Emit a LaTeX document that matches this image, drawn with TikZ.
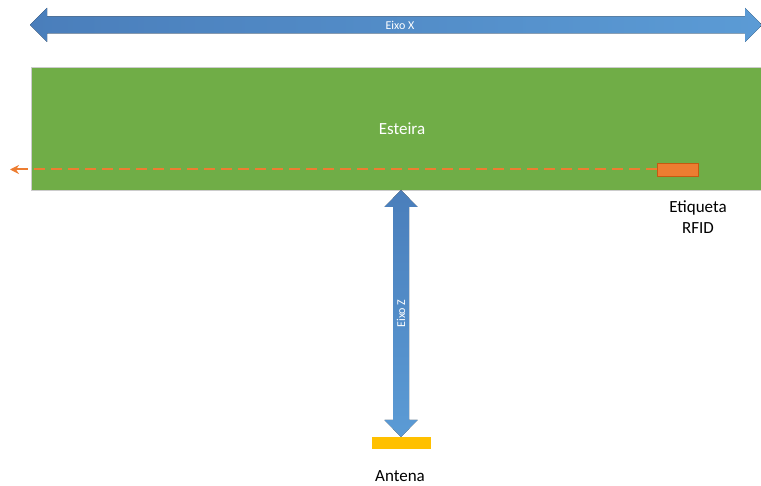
\documentclass[tikz,border=0pt]{standalone}
\usepackage{fontspec}
\setmainfont{Carlito}
\usetikzlibrary{arrows.meta, positioning}
\definecolor{eixoblue}{HTML}{4A7EBB}
\definecolor{eixolight}{HTML}{5B9BD5}
\definecolor{esteiragreen}{HTML}{70AD47}
\definecolor{tagorange}{HTML}{ED7D31}
\definecolor{tagedge}{HTML}{C55A11}
\definecolor{antenayellow}{HTML}{FFC000}
\tikzset{x=1pt, y=-1pt}
\tikzset{
  eixotexto/.style={text=white, inner sep=0pt, font=\fontsize{12}{14}\selectfont},
  rotulo/.style={font=\fontsize{17}{21}\selectfont, align=center},
  trajeto/.style={draw=tagorange, line width=2pt, dash pattern=on 11pt off 6pt}
}
\begin{document}
\begin{tikzpicture}
\useasboundingbox (0,0) rectangle (761,486);
    % eixo X
    \fill[left color=eixoblue, right color=eixolight]
      (30,25) -- (47,8) -- (47,16.5) -- (745,16.5) -- (745,8) -- (762,25)
      -- (745,42) -- (745,33.5) -- (47,33.5) -- (47,42) -- cycle;
    \node[eixotexto] (eixox) at (400,25) {Eixo X};
    % esteira
    \node[draw=black!20, line width=0.4pt, fill=esteiragreen, minimum width=730,
      minimum height=123, anchor=north west, inner sep=0pt] (esteira) at (31,67) {};
    \node[text=white, font=\fontsize{17}{21}\selectfont] (esteiralabel) at (402,129) {Esteira};
    % etiqueta
    \node[draw=tagedge, fill=tagorange, minimum width=41, minimum height=13,
      inner sep=0pt] (tag) at (677.5,169.5) {};
    \coordinate (fim) at (10,169.5);
    \coordinate (base) at (20,169.5);
    \path[trajeto] (tag.west) -- (base);
    \draw[tagorange, line width=2pt, -{Stealth[length=9pt, width=9pt]}] (base) -- (fim);
    \node[rotulo] (taglabel) at (698,217) {Etiqueta\\RFID};
    % eixo Z
    \fill[top color=eixoblue, bottom color=eixolight]
      (401,190) -- (417.5,207) -- (409,207) -- (409,420) -- (417.5,420) -- (401,437)
      -- (384.5,420) -- (393,420) -- (393,207) -- (384.5,207) -- cycle;
    \node[eixotexto, rotate=90] (eixoz) at (401,313.5) {Eixo Z};
    % antena
    \coordinate (ponta) at (401,437);
    \node[fill=antenayellow, minimum width=59, minimum height=12, inner sep=0pt,
      below=0pt of ponta] (antena) {};
    \node[rotulo] (antenalabel) at (400,476) {Antena};
\end{tikzpicture}
\end{document}
